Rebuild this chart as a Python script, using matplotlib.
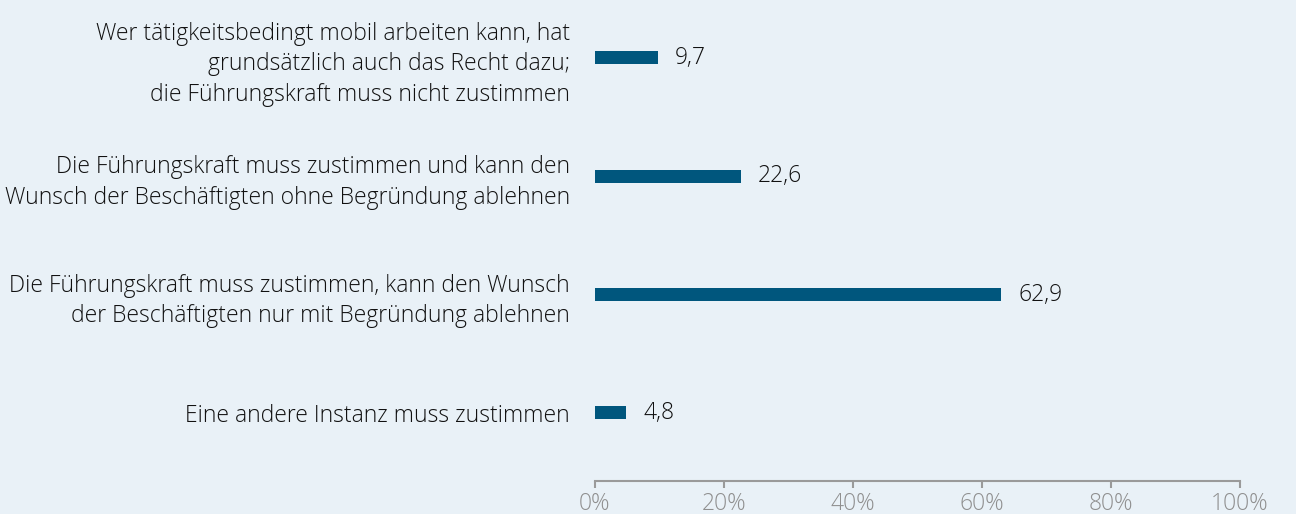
import matplotlib.pyplot as plt

# Data
categories = [
    "Wer tätigkeitsbedingt mobil arbeiten kann, hat\ngrundsätzlich auch das Recht dazu;\ndie Führungskraft muss nicht zustimmen",
    "Die Führungskraft muss zustimmen und kann den\nWunsch der Beschäftigten ohne Begründung ablehnen",
    "Die Führungskraft muss zustimmen, kann den Wunsch\nder Beschäftigten nur mit Begründung ablehnen",
    "Eine andere Instanz muss zustimmen",
]
values = [9.7, 22.6, 62.9, 4.8]
x_ticks = [0, 20, 40, 60, 80, 100]
x_tick_labels = ["0%", "20%", "40%", "60%", "80%", "100%"]

BG = "#E9F1F7"
BAR = "#00567D"
GREY = "#8F8F8F"
FS = 16.5

plt.rcParams["font.family"] = ["Open Sans", "DejaVu Sans"]
plt.rcParams["font.weight"] = "light"

fig = plt.figure(figsize=(12.96, 5.14), dpi=100, facecolor=BG)
ax = fig.add_axes([0.4591, 0.0642, 0.4977, 0.9358])
ax.set_facecolor(BG)

ypos = list(range(len(categories)))
ax.barh(ypos, values, height=0.11, color=BAR)

for y, v in zip(ypos, values):
    ax.text(v + 2.7, y, "{:.1f}".format(v).replace(".", ","),
            va="center", ha="left", fontsize=FS, color="#111111")

ax.set_xlim(0, 100)
ax.set_ylim(3.576, -0.49)
ax.set_xticks(x_ticks)
ax.set_xticklabels(x_tick_labels, fontsize=FS, color=GREY)
ax.set_yticks(ypos)
ax.set_yticklabels(categories, fontsize=FS, color="#111111",
                   linespacing=1.38, ha="right")
ax.tick_params(axis="y", length=0, pad=18)
ax.tick_params(axis="x", length=5, width=1.5, color="#9a9a9a", pad=3)

for side in ["top", "right", "left"]:
    ax.spines[side].set_visible(False)
ax.spines["bottom"].set_color("#9a9a9a")
ax.spines["bottom"].set_linewidth(1.5)

fig.savefig("out.png", dpi=100, facecolor=BG)
